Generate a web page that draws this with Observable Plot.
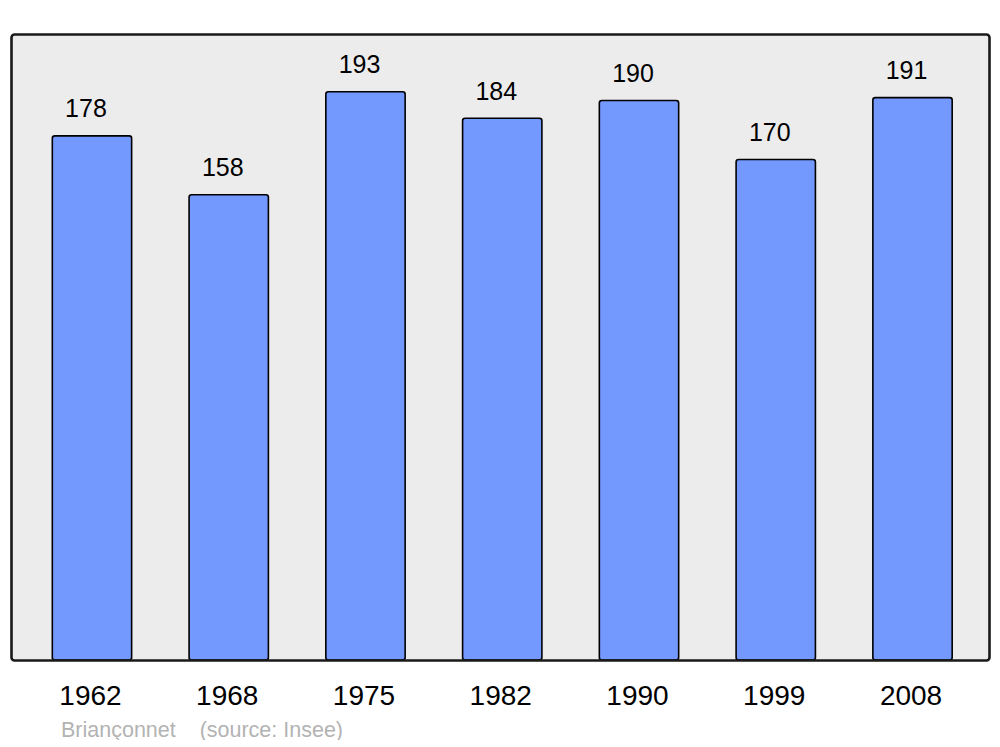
<!DOCTYPE html>
<html>
<head>
<meta charset="utf-8">
<script src="https://cdn.jsdelivr.net/npm/d3@7"></script>
<script src="https://cdn.jsdelivr.net/npm/@observablehq/plot@0.6"></script>
<style>
  body { margin: 0; background: #fff; font-family: "Liberation Sans", Arial, sans-serif; }
  #caption { margin-top: 5px; padding-left: 61px; font-size: 21.5px; line-height: 20px; color: #b3b3b3; white-space: pre; }
</style>
</head>
<body>
<div id="chart"></div>
<div id="caption">Briançonnet    (source: Insee)</div>
<script>
const years = ["1962", "1968", "1975", "1982", "1990", "1999", "2008"];
const population = [178, 158, 193, 184, 190, 170, 191];

const data = years.map((y, i) => ({year: y, value: population[i]}));

const chart = Plot.plot({
  width: 1000,
  height: 715,
  marginTop: 34,
  marginBottom: 55,
  marginLeft: 11,
  marginRight: 11,
  style: {fontFamily: "Liberation Sans, Arial, sans-serif", background: "#fff"},
  x: {domain: years, range: [23.6, 980.9], paddingInner: 0.42, paddingOuter: 0.21, round: false, label: null},
  y: {domain: [0, 212.6], axis: null},
  marks: [
    Plot.frame({fill: "#ececec", stroke: "none", rx: 3}),
    Plot.barY(data, {x: "year", y: "value", fill: "#7399ff", stroke: "#000", strokeWidth: 1.6, rx: 2.5}),
    Plot.text(data, {x: "year", y: "value", text: d => String(d.value), dy: -27, dx: -6.5, fontSize: 25, fill: "#000"}),
    Plot.frame({stroke: "#1a1a1a", strokeWidth: 2.6, rx: 3, fill: "none"}),
    Plot.axisX({tickSize: 0, tickPadding: 25, dx: -2, fontSize: 28, label: null, fill: "#000"})
  ]
});
document.getElementById("chart").appendChild(chart);
</script>
</body>
</html>
